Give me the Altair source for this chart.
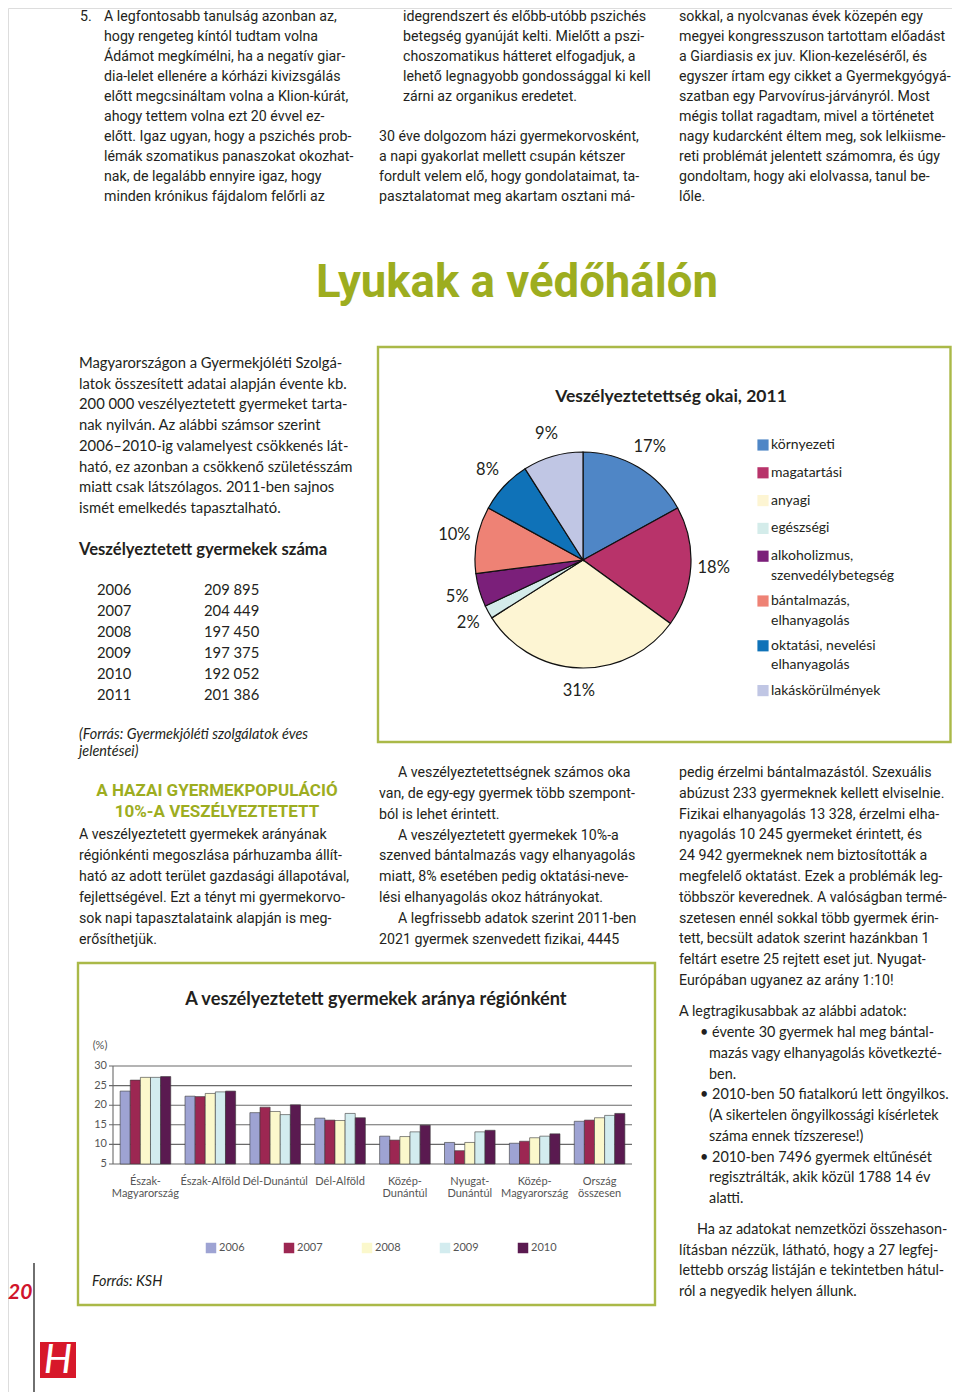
import altair as alt
import pandas as pd

# ------------------------------------------------------------------ data
table_years = ["2006", "2007", "2008", "2009", "2010", "2011"]
table_counts = ["209 895", "204 449", "197 450", "197 375", "192 052", "201 386"]

causes = ["környezeti", "magatartási", "anyagi", "egészségi",
          "alkoholizmus,\nszenvedélybetegség", "bántalmazás,\nelhanyagolás",
          "oktatási, nevelési\nelhanyagolás", "lakáskörülmények"]
cause_pct = [17, 18, 31, 2, 5, 10, 8, 9]
cause_colors = ["#4f86c6", "#b8336a", "#fdf5d3", "#d4ecea",
                "#7b1f7a", "#ee8275", "#0f72b8", "#c0c6e4"]

regions = ["Észak-\nMagyarország", "Észak-Alföld", "Dél-Dunántúl", "Dél-Alföld",
           "Közép-\nDunántúl", "Nyugat-\nDunántúl", "Közép-\nMagyarország", "Ország\nösszesen"]
bar_years = ["2006", "2007", "2008", "2009", "2010"]
rate_2006 = [23.6, 22.3, 18.1, 16.7, 12.1, 10.5, 10.3, 15.9]
rate_2007 = [26.4, 22.2, 19.5, 16.2, 11.1, 8.4, 10.8, 16.2]
rate_2008 = [27.1, 23.0, 18.4, 16.1, 12.0, 10.5, 11.7, 16.8]
rate_2009 = [27.1, 23.4, 17.6, 17.9, 13.2, 13.2, 12.1, 17.4]
rate_2010 = [27.3, 23.6, 20.1, 16.8, 14.9, 13.6, 12.7, 17.9]
y_ticks = [5, 10, 15, 20, 25, 30]
bar_colors = ["#9ea3d3", "#9c2752", "#fbf8cc", "#d3ecef", "#5a1a50"]

top_c1 = ["A legfontosabb tanulság azonban az,", "hogy rengeteg kíntól tudtam volna",
          "Ádámot megkímélni, ha a negatív giar-", "dia-lelet ellenére a kórházi kivizsgálás",
          "előtt megcsináltam volna a Klion-kúrát,", "ahogy tettem volna ezt 20 évvel ez-",
          "előtt. Igaz ugyan, hogy a pszichés prob-", "lémák szomatikus panaszokat okozhat-",
          "nak, de legalább ennyire igaz, hogy", "minden krónikus fájdalom felőrli az"]
top_c2a = ["idegrendszert és előbb-utóbb pszichés", "betegség gyanúját kelti. Mielőtt a pszi-",
           "choszomatikus hátteret elfogadjuk, a", "lehető legnagyobb gondossággal ki kell",
           "zárni az organikus eredetet."]
top_c2b = ["30 éve dolgozom házi gyermekorvosként,", "a napi gyakorlat mellett csupán kétszer",
           "fordult velem elő, hogy gondolataimat, ta-", "pasztalatomat meg akartam osztani má-"]
top_c3 = ["sokkal, a nyolcvanas évek közepén egy", "megyei kongresszuson tartottam előadást",
          "a Giardiasis ex juv. Klion-kezeléséről, és", "egyszer írtam egy cikket a Gyermekgyógyá-",
          "szatban egy Parvovírus-járványról. Most", "mégis tollat ragadtam, mivel a történetet",
          "nagy kudarcként éltem meg, sok lelkiisme-", "reti problémát jelentett számomra, és úgy",
          "gondoltam, hogy aki elolvassa, tanul be-", "lőle."]
page_title = "Lyukak a védőhálón"
intro = ["Magyarországon a Gyermekjóléti Szolgá-", "latok összesített adatai alapján évente kb.",
         "200 000 veszélyeztetett gyermeket tarta-", "nak nyilván. Az alábbi számsor szerint",
         "2006–2010-ig valamelyest csökkenés lát-", "ható, ez azonban a csökkenő születésszám",
         "miatt csak látszólagos. 2011-ben sajnos", "ismét emelkedés tapasztalható."]
table_title = "Veszélyeztetett gyermekek száma"
table_source = ["(Forrás: Gyermekjóléti szolgálatok éves", "jelentései)"]
pie_title = "Veszélyeztetettség okai, 2011"
heading = ["A HAZAI GYERMEKPOPULÁCIÓ", "10%-A VESZÉLYEZTETETT"]
mid_c1 = ["A veszélyeztetett gyermekek arányának", "régiónkénti megoszlása párhuzamba állít-",
          "ható az adott terület gazdasági állapotával,", "fejlettségével. Ezt a tényt mi gyermekorvo-",
          "sok napi tapasztalataink alapján is meg-", "erősíthetjük."]
mid_c2 = ["A veszélyeztetettségnek számos oka", "van, de egy-egy gyermek több szempont-",
          "ból is lehet érintett.", "A veszélyeztetett gyermekek 10%-a",
          "szenved bántalmazás vagy elhanyagolás", "miatt, 8% esetében pedig oktatási-neve-",
          "lési elhanyagolás okoz hátrányokat.", "A legfrissebb adatok szerint 2011-ben",
          "2021 gyermek szenvedett fizikai, 4445"]
mid_c3 = ["pedig érzelmi bántalmazástól. Szexuális", "abúzust 233 gyermeknek kellett elviselnie.",
          "Fizikai elhanyagolás 13 328, érzelmi elha-", "nyagolás 10 245 gyermeket érintett, és",
          "24 942 gyermeknek nem biztosították a", "megfelelő oktatást. Ezek a problémák leg-",
          "többször keverednek. A valóságban termé-", "szetesen ennél sokkal több gyermek érin-",
          "tett, becsült adatok szerint hazánkban 1", "feltárt esetre 25 rejtett eset jut. Nyugat-",
          "Európában ugyanez az arány 1:10!"]
facts_intro = "A legtragikusabbak az alábbi adatok:"
facts = ["• évente 30 gyermek hal meg bántal-", "mazás vagy elhanyagolás következté-", "ben.",
         "• 2010-ben 50 fiatalkorú lett öngyilkos.", "(A sikertelen öngyilkossági kísérletek",
         "száma ennek tízszerese!)", "• 2010-ben 7496 gyermek eltűnését",
         "regisztrálták, akik közül 1788 14 év", "alatti."]
closing = ["Ha az adatokat nemzetközi összehason-", "lításban nézzük, látható, hogy a 27 legfej-",
           "lettebb ország listáján e tekintetben hátul-", "ról a negyedik helyen állunk."]
bar_title = "A veszélyeztetett gyermekek aránya régiónként"
bar_source = "Forrás: KSH"
page_no = "20"

# ------------------------------------------------------------------ layout / style
OFF = 8
W, H = 944, 1384
INK = "#231f20"
OLIVE = "#9dad1f"
BOX = "#aab948"
COND = "Roboto, Lato, sans-serif"
HUM = "Lato, Open Sans, sans-serif"


def P(v):
    return v - OFF


STY = {
    "cond": dict(font=COND, fontSize=14.2, color=INK),
    "reg": dict(font=HUM, fontSize=14.4, color=INK),
    "regl": dict(font=HUM, fontSize=14.8, color=INK),
    "bold": dict(font=HUM, fontSize=16.6, fontWeight="bold", color=INK),
    "ital": dict(font=HUM, fontSize=14.4, fontStyle="italic", color=INK),
    "head": dict(font=COND, fontSize=17, fontWeight="bold", color=OLIVE),
    "title": dict(font=COND, fontSize=45.5, fontWeight="bold", color=OLIVE),
    "ptitle": dict(font=HUM, fontSize=17.5, fontWeight="bold", color=INK),
    "btitle": dict(font=HUM, fontSize=18.2, fontWeight="bold", color=INK),
    "leg": dict(font=HUM, fontSize=14, color=INK),
    "page": dict(font=HUM, fontSize=21, fontWeight="bold", fontStyle="italic", color="#d0142c"),
}

rows = []


def add(lines, x, y0, lh, kind, align="left", indent=None):
    for i, t in enumerate(lines):
        dx = indent.get(i, 0) if indent else 0
        rows.append(dict(t=t, x=P(x + dx), y=P(y0 + i * lh), kind=kind, align=align))


TOP0, TOPLH = 16.5, 20.05
add(["5."], 80, TOP0, TOPLH, "cond")
add(top_c1, 104, TOP0, TOPLH, "cond")
add(top_c2a, 403, TOP0, TOPLH, "cond")
add(top_c2b, 379, TOP0 + 6 * TOPLH, TOPLH, "cond")
add(top_c3, 679, TOP0, TOPLH, "cond")
add([page_title], 517, 283, 0, "title", align="center")
add(intro, 79, 364, 20.7, "regl")
add([table_title], 79, 550, 0, "bold")
add(table_years, 97, 591, 21, "regl")
add(table_counts, 204, 591, 21, "regl")
add(table_source, 79, 735, 17, "ital")
add([pie_title], 671, 397, 0, "ptitle", align="center")
add(heading, 217, 791, 21, "head", align="center")
add(mid_c1, 79, 835, 21, "cond")
add(mid_c2, 379, 773, 20.85, "cond", indent={0: 19, 3: 19, 7: 19})
add(mid_c3, 679, 773, 20.8, "cond")
add([facts_intro], 679, 1012, 0, "reg")
add(facts, 700, 1033, 20.75, "reg", indent={1: 9, 2: 9, 4: 9, 5: 9, 7: 9, 8: 9})
add(closing, 679, 1230, 20.7, "reg", indent={0: 18})
add([bar_title], 376, 1000, 0, "btitle", align="center")
add([bar_source], 92, 1282, 0, "ital")
add([page_no], 8, 1293, 0, "page")

# pie legend rows (layout computed from label line counts)
leg_rows = []
ly = 445.0
for c in causes:
    parts = c.split("\n")
    for j, part in enumerate(parts):
        rows.append(dict(t=part, x=P(771), y=P(ly + j * 19.5), kind="leg", align="left"))
    leg_rows.append(dict(cat=c, y=P(ly)))
    ly += 27.8 + 17 * (len(parts) - 1)

text_df = pd.DataFrame(rows)

layers = []

# boxes and page furniture
frames = pd.DataFrame({"x": [P(378), P(78)], "x2": [P(950.5), P(655)],
                       "y": [P(347), P(963)], "y2": [P(742), P(1305)]})
layers.append(alt.Chart(frames).mark_rect(fillOpacity=0, stroke=BOX, strokeWidth=2.4).encode(
    x=alt.X("x:Q", scale=None, axis=None), x2="x2:Q",
    y=alt.Y("y:Q", scale=None, axis=None), y2="y2:Q"))
layers.append(alt.Chart(pd.DataFrame({"a": [0]})).mark_rule(color="#222", strokeWidth=1.3).encode(
    x=alt.value(P(34)), y=alt.value(P(1263)), y2=alt.value(H)))
layers.append(alt.Chart(pd.DataFrame({"a": [0]})).mark_rect(color="#d7182a").encode(
    x=alt.value(P(40)), x2=alt.value(P(76)), y=alt.value(P(1342)), y2=alt.value(P(1378))))
layers.append(alt.Chart(pd.DataFrame({"a": [0]})).mark_text(
    text="H", font=HUM, fontSize=40, fontStyle="italic", color="white", align="center", baseline="middle").encode(
    x=alt.value(P(58)), y=alt.value(P(1361))))

# ---- pie chart
pie_df = pd.DataFrame({"cat": causes, "pct": cause_pct, "idx": list(range(len(causes))),
                       "lab": [f"{p}%" for p in cause_pct]})
cscale = alt.Scale(domain=causes, range=cause_colors)
layers.append(alt.Chart(pie_df).mark_arc(radius=108, stroke="#111", strokeWidth=1.2).encode(
    theta=alt.Theta("pct:Q", stack=True),
    order=alt.Order("idx:Q"),
    color=alt.Color("cat:N", scale=cscale, legend=None),
    x=alt.value(P(583)), y=alt.value(P(560))))
layers.append(alt.Chart(pie_df).mark_text(radius=131, font=HUM, fontSize=16.5, color=INK).encode(
    theta=alt.Theta("pct:Q", stack=True),
    order=alt.Order("idx:Q"),
    text="lab:N",
    x=alt.value(P(583)), y=alt.value(P(560))))
leg_df = pd.DataFrame(leg_rows)
layers.append(alt.Chart(leg_df).mark_square(size=125, opacity=1).encode(
    x=alt.value(P(763)),
    y=alt.Y("y:Q", scale=None, axis=None),
    color=alt.Color("cat:N", scale=cscale, legend=None)))

# ---- bar chart
recs = []
for yr, vals in zip(bar_years, [rate_2006, rate_2007, rate_2008, rate_2009, rate_2010]):
    for r, v in zip(regions, vals):
        recs.append(dict(region=r, year=yr, val=v))
bar_df = pd.DataFrame(recs)
xsc = alt.Scale(type="band", domain=regions, range=[P(113), P(632)], paddingInner=0.22, paddingOuter=0.11)
ysc = alt.Scale(domain=[5, 30], range=[P(1164), P(1066)], nice=False, zero=False)
ycol = alt.Scale(domain=bar_years, range=bar_colors)

grid_df = pd.DataFrame({"v": y_ticks})
layers.append(alt.Chart(grid_df).mark_rule(color="#6a6a6a", strokeWidth=1.1).encode(
    y=alt.Y("v:Q", scale=ysc, axis=None), x=alt.value(P(109)), x2=alt.value(P(632))))
layers.append(alt.Chart(pd.DataFrame({"lo": [5], "hi": [30]})).mark_rule(color="#6a6a6a", strokeWidth=1.1).encode(
    y=alt.Y("lo:Q", scale=ysc, axis=None), y2="hi:Q", x=alt.value(P(113))))
layers.append(alt.Chart(grid_df).mark_text(align="right", baseline="middle", font=HUM, fontSize=11, color="#555").encode(
    y=alt.Y("v:Q", scale=ysc, axis=None), x=alt.value(P(107)), text="v:Q"))
layers.append(alt.Chart(pd.DataFrame({"a": [0]})).mark_text(
    text="(%)", align="center", baseline="middle", font=HUM, fontSize=11, color="#555").encode(
    x=alt.value(P(100)), y=alt.value(P(1046))))
layers.append(alt.Chart(bar_df).mark_bar(stroke="#3a3a3a", strokeWidth=0.6).encode(
    x=alt.X("region:N", sort=regions, scale=xsc, axis=None),
    xOffset=alt.XOffset("year:N", sort=bar_years, scale=alt.Scale(paddingInner=0, paddingOuter=0)),
    y=alt.Y("val:Q", scale=ysc, axis=None),
    y2=alt.datum(5),
    color=alt.Color("year:N", scale=ycol, legend=None)))
layers.append(alt.Chart(pd.DataFrame({"region": regions})).mark_text(
    align="center", baseline="top", lineBreak="\n", lineHeight=12, font=HUM, fontSize=11, color="#555").encode(
    x=alt.X("region:N", sort=regions, scale=xsc, axis=None),
    y=alt.value(P(1176)), text="region:N"))
lx = alt.Scale(type="point", domain=bar_years, range=[P(211), P(523)], padding=0)
yl_df = pd.DataFrame({"year": bar_years})
layers.append(alt.Chart(yl_df).mark_square(size=110, opacity=1).encode(
    x=alt.X("year:N", scale=lx, axis=None), y=alt.value(P(1248)),
    color=alt.Color("year:N", scale=ycol, legend=None)))
layers.append(alt.Chart(yl_df).mark_text(align="left", baseline="middle", dx=8, font=HUM, fontSize=11, color="#555").encode(
    x=alt.X("year:N", scale=lx, axis=None), y=alt.value(P(1248)), text="year:N"))

# ---- all text
for (kind, align), g in text_df.groupby(["kind", "align"]):
    layers.append(alt.Chart(g.reset_index(drop=True)).mark_text(align=align, baseline="middle", **STY[kind]).encode(
        x=alt.X("x:Q", scale=None, axis=None),
        y=alt.Y("y:Q", scale=None, axis=None),
        text=alt.Text("t:N")))

chart = alt.layer(*layers).resolve_scale(
    x="independent", y="independent", color="independent", theta="independent"
).properties(
    width=W, height=H, padding=0, autosize=alt.AutoSizeParams(type="none")
).configure_view(stroke=None).configure(background="white")

chart.save("out.html", embed_options={"renderer": "svg", "actions": False})
